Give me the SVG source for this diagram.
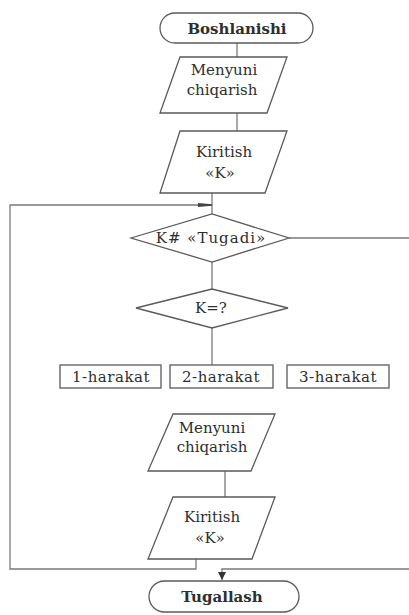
<svg xmlns="http://www.w3.org/2000/svg" width="409" height="615" viewBox="0 0 409 615">
<defs>
<style>
.shape{fill:#fff;stroke:#5a5a5a;stroke-width:1.3}
.line{fill:none;stroke:#7a7a7a;stroke-width:1.3}
.t{font-family:"DejaVu Serif","Liberation Serif",serif;font-size:15px;fill:#2e2e2e;text-anchor:middle}
.b{font-weight:bold}
.s{letter-spacing:0.5px}
.w{letter-spacing:1px}
</style>
<marker id="arrR" markerWidth="14" markerHeight="6" refX="14" refY="3" orient="auto" markerUnits="userSpaceOnUse">
<path d="M0,1 L14,2.2 L14,3.8 L0,5 Z" fill="#444"/>
</marker>
<marker id="arrD" markerWidth="8" markerHeight="8" refX="8" refY="4" orient="auto" markerUnits="userSpaceOnUse">
<path d="M0,0 L8,4 L0,8 Z" fill="#333"/>
</marker>
</defs>
<rect width="409" height="615" fill="#fff"/>
<g id="connectors">
<line class="line" x1="237" y1="43" x2="237" y2="57"/>
<line class="line" x1="237" y1="113" x2="237" y2="131"/>
<line class="line" x1="212" y1="193" x2="212" y2="214"/>
<polyline class="line" points="196,559 196,569 10,569 10,205 212,205" marker-end="url(#arrR)"/>
<line class="line" x1="289" y1="238" x2="409" y2="238"/>
<line class="line" x1="212" y1="262" x2="212" y2="289"/>
<line class="line" x1="212" y1="328" x2="212" y2="365"/>
<line class="line" x1="225" y1="471" x2="225" y2="497"/>
<polyline class="line" points="409,569 222,569 222,580" marker-end="url(#arrD)"/>
</g>
<g id="start">
<rect class="shape" x="160" y="13" width="153" height="30" rx="15"/>
<text class="t b" x="237" y="33.5">Boshlanishi</text>
</g>
<g id="menu1">
<polygon class="shape" points="180,57 287,57 267,113 160,113"/>
<text class="t" x="224" y="75">Menyuni</text>
<text class="t" x="222" y="95">chiqarish</text>
</g>
<g id="input1">
<polygon class="shape" points="180,131 287,131 265,193 160,193"/>
<text class="t" x="224" y="157">Kiritish</text>
<text class="t" x="220" y="178">«K»</text>
</g>
<g id="cond1">
<polygon class="shape" points="131,238 212,214 289,238 212,262"/>
<text class="t w" x="211" y="243">K# «Tugadi»</text>
</g>
<g id="cond2">
<polygon class="shape" points="136,308 212,289 288,308 212,328"/>
<text class="t" x="211" y="313">K=?</text>
</g>
<g id="act1">
<rect class="shape" x="60" y="365" width="101" height="23"/>
<text class="t s" x="111" y="382">1-harakat</text>
</g>
<g id="act2">
<rect class="shape" x="170" y="365" width="103" height="23"/>
<text class="t s" x="221" y="382">2-harakat</text>
</g>
<g id="act3">
<rect class="shape" x="287" y="365" width="102" height="23"/>
<text class="t s" x="338" y="382">3-harakat</text>
</g>
<g id="menu2">
<polygon class="shape" points="173,414 275,414 251,471 148,471"/>
<text class="t" x="212" y="433">Menyuni</text>
<text class="t" x="212" y="452">chiqarish</text>
</g>
<g id="input2">
<polygon class="shape" points="173,497 275,497 252,559 148,559"/>
<text class="t" x="212" y="522">Kiritish</text>
<text class="t" x="210" y="543">«K»</text>
</g>
<g id="end">
<rect class="shape" x="149" y="581" width="150" height="31" rx="15.5"/>
<text class="t b" x="222" y="601.5">Tugallash</text>
</g>
</svg>
